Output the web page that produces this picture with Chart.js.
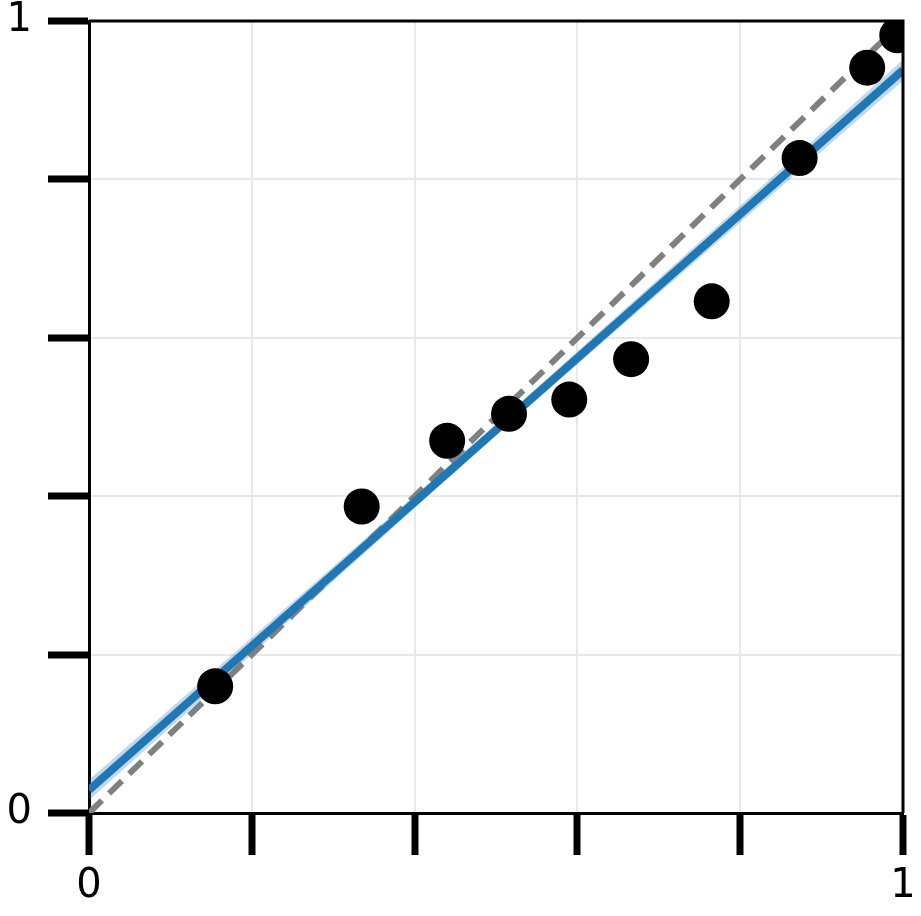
<!DOCTYPE html>
<html>
<head>
<meta charset="utf-8">
<script src="https://cdn.jsdelivr.net/npm/chart.js@4/dist/chart.umd.min.js"></script>
<style>
  html, body { margin: 0; padding: 0; background: #fff; }
  #wrap { width: 921px; height: 916px; }
</style>
</head>
<body>
<div id="wrap"><canvas id="c" width="921" height="916"></canvas></div>
<script>
// Observed points
const obsX = [0.155, 0.335, 0.440, 0.516, 0.590, 0.666, 0.765, 0.873, 0.956, 0.993];
const obsY = [0.160, 0.387, 0.470, 0.504, 0.522, 0.573, 0.646, 0.827, 0.941, 0.982];
// Fitted line
const fitX = [0, 1];
const fitY = [0.029, 0.938];
// Confidence band
const bandX = [0, 0.5, 1];
const bandUpper = [0.042, 0.491, 0.951];
const bandLower = [0.016, 0.477, 0.925];
// Reference diagonal
const refX = [0, 1];
const refY = [0, 1];
// Axis ticks
const tickValues = [0, 0.2, 0.4, 0.6, 0.8, 1];
const tickLabels = ['0', '', '', '', '', '1'];

const pts = (xs, ys) => xs.map((x, i) => ({ x: x, y: ys[i] }));

const frame = {
  id: 'frame',
  afterDatasetsDraw(chart) {
    const a = chart.chartArea, ctx = chart.ctx;
    ctx.save();
    ctx.strokeStyle = '#000';
    ctx.lineWidth = 3;
    ctx.beginPath();
    ctx.moveTo(a.left, a.top);
    ctx.lineTo(a.right, a.top);
    ctx.lineTo(a.right, a.bottom);
    ctx.stroke();
    ctx.restore();
  }
};

const labelFor = (v) => {
  const i = tickValues.findIndex(t => Math.abs(t - v) < 1e-9);
  return i >= 0 ? tickLabels[i] : '';
};

new Chart(document.getElementById('c'), {
  type: 'scatter',
  data: {
    datasets: [
      { data: pts(obsX, obsY), backgroundColor: '#000', borderColor: '#000',
        pointRadius: 18, pointHoverRadius: 18, borderWidth: 0 },
      { data: pts(fitX, fitY), showLine: true, borderColor: '#1f77b4', borderWidth: 8,
        pointRadius: 0, fill: false },
      { data: pts(refX, refY), showLine: true, borderColor: '#808080', borderWidth: 6,
        borderDash: [18, 10], pointRadius: 0, fill: false },
      { data: pts(bandX, bandUpper), showLine: true, borderColor: 'rgba(0,0,0,0)', borderWidth: 0,
        pointRadius: 0, fill: false },
      { data: pts(bandX, bandLower), showLine: true, borderColor: 'rgba(0,0,0,0)', borderWidth: 0,
        pointRadius: 0, fill: '-1', backgroundColor: 'rgba(31,119,180,0.28)' }
    ]
  },
  options: {
    responsive: false,
    animation: false,
    layout: { padding: { left: 0, top: 21, right: 18, bottom: 0 } },
    plugins: { legend: { display: false }, tooltip: { enabled: false } },
    scales: {
      x: {
        type: 'linear', min: 0, max: 1,
        afterFit: (s) => { s.height = 103; s.paddingLeft = 0; s.paddingRight = 0; },
        afterBuildTicks: (s) => { s.ticks = tickValues.map(v => ({ value: v })); },
        ticks: { callback: labelFor, autoSkip: false, maxRotation: 0, padding: 8,
                 color: '#000', font: { family: 'DejaVu Sans', size: 40 } },
        grid: { color: '#e8e8e8', lineWidth: 2, tickColor: '#000', tickWidth: 7, tickLength: 42 },
        border: { display: true, color: '#000', width: 3 }
      },
      y: {
        type: 'linear', min: 0, max: 1,
        afterFit: (s) => { s.width = 89; s.paddingTop = 0; s.paddingBottom = 0; },
        afterBuildTicks: (s) => { s.ticks = tickValues.map(v => ({ value: v })); },
        ticks: { callback: labelFor, autoSkip: false, padding: 16,
                 color: '#000', font: { family: 'DejaVu Sans', size: 40 } },
        grid: { color: '#e8e8e8', lineWidth: 2, tickColor: '#000', tickWidth: 7, tickLength: 41 },
        border: { display: true, color: '#000', width: 3 }
      }
    }
  },
  plugins: [frame]
});
</script>
</body>
</html>
